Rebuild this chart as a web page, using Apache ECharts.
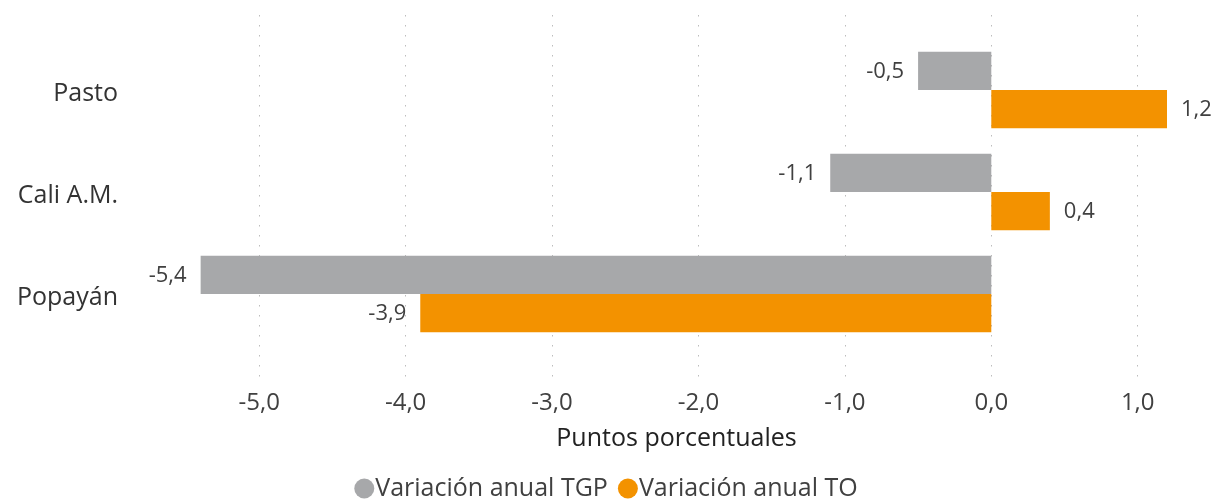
<!DOCTYPE html>
<html>
<head>
<meta charset="utf-8">
<script src="https://cdn.jsdelivr.net/npm/echarts@6/dist/echarts.min.js"></script>
<style>
  html, body { margin: 0; padding: 0; background: #fff; }
  #chart { width: 1212px; height: 503px; }
</style>
</head>
<body>
<div id="chart"></div>
<script>
// Ciudades (de arriba hacia abajo)
const categories = ['Pasto', 'Cali A.M.', 'Popayán'];
// Variación anual en puntos porcentuales
const tgpValues = [-0.5, -1.1, -5.4];
const toValues = [1.2, 0.4, -3.9];
const seriesNames = ['Variación anual TGP', 'Variación anual TO'];
const axisTitle = 'Puntos porcentuales';

const FONT = '"Open Sans", "Noto Sans", sans-serif';
const COLORS = ['#A7A8AA', '#F39200'];
const X_MIN = -5.5, X_MAX = 1.2;

const fmt = v => v.toFixed(1).replace('.', ',');

// Negative bars get their label on the left end, positive on the right
const withLabels = arr => arr.map(v => ({
  value: v,
  label: { position: v < 0 ? 'left' : 'right' }
}));

const barLabel = {
  show: true,
  distance: 14,
  offset: [0, 1],
  color: '#404040',
  fontSize: 22,
  fontFamily: FONT,
  formatter: p => fmt(p.value)
};

const chart = echarts.init(document.getElementById('chart'));
chart.setOption({
  animation: false,
  textStyle: { fontFamily: FONT },
  grid: [
    // bars
    { left: 186, right: 45, top: 39, bottom: 158 },
    // dotted gridlines + value axis labels
    { left: 186, right: 45, top: 15, bottom: 125 }
  ],
  xAxis: [
    {
      gridIndex: 0, type: 'value', min: X_MIN, max: X_MAX,
      show: false
    },
    {
      gridIndex: 1, type: 'value', min: X_MIN, max: X_MAX,
      splitNumber: 7, minInterval: 1, maxInterval: 1,
      axisLine: { show: false },
      axisTick: { show: false },
      axisLabel: {
        show: true, showMinLabel: false, showMaxLabel: false,
        margin: 13, fontSize: 24, color: '#404040', fontFamily: FONT,
        formatter: v => fmt(v)
      },
      splitLine: {
        show: true, showMinLine: false, showMaxLine: false,
        lineStyle: { color: '#bdbdbd', width: 1, type: [1.5, 8.5] }
      },
      name: axisTitle,
      nameLocation: 'middle',
      nameGap: 48,
      nameTextStyle: { fontSize: 25, color: '#222', fontFamily: FONT }
    }
  ],
  yAxis: [
    {
      gridIndex: 0, type: 'category', data: categories, inverse: true,
      axisLine: { show: false },
      axisTick: { show: false },
      splitLine: { show: false },
      axisLabel: {
        margin: 68,
        formatter: v => '{c|' + v + '}',
        rich: {
          c: { fontSize: 25, color: '#333', fontFamily: FONT, padding: [8, 0, 0, 0] }
        }
      }
    },
    {
      gridIndex: 1, type: 'value', min: 0, max: 1, show: false
    }
  ],
  legend: {
    top: 471,
    left: 'center',
    icon: 'circle',
    itemWidth: 20,
    itemHeight: 20,
    itemGap: 10,
    textStyle: { fontSize: 25, color: '#404040', fontFamily: FONT, padding: [0, 0, 0, -4] },
    data: seriesNames
  },
  series: [
    {
      name: seriesNames[0], type: 'bar',
      xAxisIndex: 0, yAxisIndex: 0,
      data: withLabels(tgpValues),
      itemStyle: { color: COLORS[0] },
      barGap: '0%', barCategoryGap: '25%',
      label: barLabel
    },
    {
      name: seriesNames[1], type: 'bar',
      xAxisIndex: 0, yAxisIndex: 0,
      data: withLabels(toValues),
      itemStyle: { color: COLORS[1] },
      barGap: '0%', barCategoryGap: '25%',
      label: barLabel
    }
  ]
});
</script>
</body>
</html>
